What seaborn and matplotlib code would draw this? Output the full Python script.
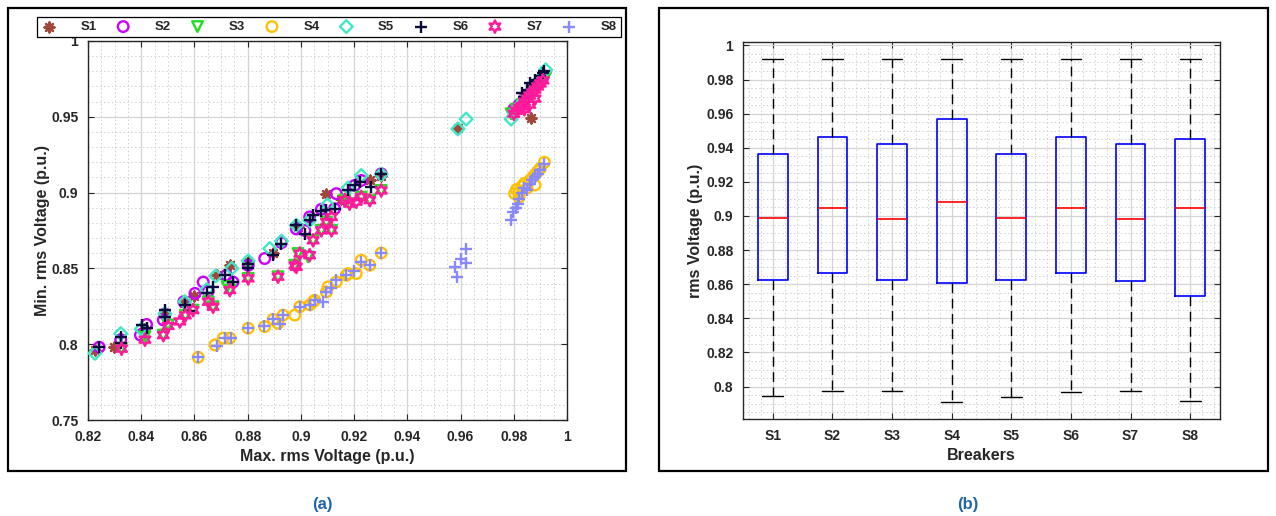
import numpy as np
import pandas as pd
import matplotlib
matplotlib.use("Agg")
import matplotlib.pyplot as plt
from matplotlib.ticker import MultipleLocator, FuncFormatter
from matplotlib.patches import Rectangle
import seaborn as sns

# ---------------- data: (a) min vs max rms voltage per breaker ----------------
series_names = ["S1", "S2", "S3", "S4", "S5", "S6", "S7", "S8"]

s1_vmax = [0.8226, 0.8299, 0.8410, 0.8489, 0.8560, 0.8600, 0.8683, 0.8733, 0.8802, 0.8896,
           0.8990, 0.9096, 0.9150, 0.9259, 0.9300, 0.9590, 0.9865, 0.9810, 0.9850, 0.9890]
s1_vmin = [0.7960, 0.7980, 0.8100, 0.8200, 0.8270, 0.8320, 0.8455, 0.8520, 0.8540, 0.8600,
           0.8770, 0.8993, 0.8960, 0.9080, 0.9110, 0.9425, 0.9490, 0.9560, 0.9640, 0.9720]

s2_vmax = [0.8242, 0.8323, 0.8397, 0.8420, 0.8483, 0.8489, 0.8560, 0.8602, 0.8633, 0.8652,
           0.8720, 0.8745, 0.8802, 0.8864, 0.8927, 0.8983, 0.9015, 0.9033, 0.9077, 0.9127,
           0.9133, 0.9202, 0.9227, 0.9302, 0.9800, 0.9820, 0.9840, 0.9860, 0.9880, 0.9900, 0.9910]
s2_vmin = [0.7980, 0.8030, 0.8060, 0.8130, 0.8160, 0.8200, 0.8280, 0.8335, 0.8410, 0.8350,
           0.8455, 0.8410, 0.8520, 0.8565, 0.8670, 0.8760, 0.8750, 0.8840, 0.8890, 0.8894,
           0.8993, 0.9047, 0.9080, 0.9124, 0.9550, 0.9580, 0.9620, 0.9650, 0.9700, 0.9740, 0.9760]

s3_vmax = [0.8326, 0.8414, 0.8483, 0.8501, 0.8566, 0.8595, 0.8652, 0.8670, 0.8723, 0.8733,
           0.8802, 0.8914, 0.8977, 0.8989, 0.9027, 0.9046, 0.9077, 0.9115, 0.9096, 0.9165,
           0.9183, 0.9227, 0.9259, 0.9302, 0.9790, 0.9810, 0.9830, 0.9850, 0.9870, 0.9890,
           0.9910, 0.9920]
s3_vmin = [0.7973, 0.8050, 0.8060, 0.8127, 0.8190, 0.8225, 0.8280, 0.8247, 0.8380, 0.8357,
           0.8434, 0.8445, 0.8521, 0.8598, 0.8576, 0.8685, 0.8751, 0.8751, 0.8806, 0.8950,
           0.8927, 0.8970, 0.8950, 0.9014, 0.9520, 0.9550, 0.9580, 0.9620, 0.9660, 0.9690,
           0.9730, 0.9760]

s4_vmax = [0.8614, 0.8677, 0.8708, 0.8733, 0.8802, 0.8864, 0.8896, 0.8914, 0.8933, 0.8977,
           0.8996, 0.9034, 0.9046, 0.9052, 0.9096, 0.9102, 0.9133, 0.9171, 0.9177, 0.9208,
           0.9227, 0.9259, 0.9302, 0.9803, 0.9810, 0.9820, 0.9830, 0.9840, 0.9850, 0.9860,
           0.9870, 0.9880, 0.9890, 0.9900, 0.9915, 0.9880, 0.9820]
s4_vmin = [0.7914, 0.7995, 0.8040, 0.8040, 0.8105, 0.8116, 0.8164, 0.8138, 0.8192, 0.8192,
           0.8247, 0.8260, 0.8280, 0.8290, 0.8345, 0.8378, 0.8411, 0.8455, 0.8466, 0.8466,
           0.8554, 0.8521, 0.8602, 0.8993, 0.9020, 0.9000, 0.9040, 0.9060, 0.9030, 0.9080,
           0.9100, 0.9120, 0.9140, 0.9160, 0.9200, 0.9050, 0.8970]

s5_vmax = [0.8226, 0.8323, 0.8400, 0.8489, 0.8564, 0.8646, 0.8680, 0.8740, 0.8802, 0.8883,
           0.8927, 0.8983, 0.9033, 0.9100, 0.9177, 0.9227, 0.9302, 0.9590, 0.9621, 0.9790,
           0.9800, 0.9820, 0.9840, 0.9860, 0.9880, 0.9900, 0.9920]
s5_vmin = [0.7940, 0.8070, 0.8100, 0.8200, 0.8280, 0.8360, 0.8450, 0.8500, 0.8550, 0.8631,
           0.8680, 0.8784, 0.8817, 0.8920, 0.9030, 0.9113, 0.9120, 0.9420, 0.9485, 0.9485,
           0.9530, 0.9570, 0.9620, 0.9660, 0.9710, 0.9750, 0.9810]

s6_vmax = [0.8242, 0.8323, 0.8323, 0.8402, 0.8420, 0.8489, 0.8489, 0.8564, 0.8580, 0.8646,
           0.8670, 0.8714, 0.8745, 0.8802, 0.8802, 0.8896, 0.8927, 0.8983, 0.9015, 0.9033,
           0.9046, 0.9077, 0.9096, 0.9127, 0.9177, 0.9202, 0.9221, 0.9265, 0.9302, 0.9830,
           0.9840, 0.9850, 0.9860, 0.9870, 0.9880, 0.9900, 0.9910, 0.9915]
s6_vmin = [0.7980, 0.8050, 0.8010, 0.8127, 0.8110, 0.8225, 0.8180, 0.8260, 0.8220, 0.8335,
           0.8380, 0.8455, 0.8410, 0.8532, 0.8500, 0.8587, 0.8664, 0.8784, 0.8730, 0.8817,
           0.8850, 0.8880, 0.8883, 0.8894, 0.9014, 0.9047, 0.9069, 0.9036, 0.9124, 0.9660,
           0.9630, 0.9680, 0.9720, 0.9700, 0.9740, 0.9770, 0.9790, 0.9800]

s7_vmax = [0.8326, 0.8414, 0.8483, 0.8501, 0.8545, 0.8566, 0.8595, 0.8652, 0.8670, 0.8733,
           0.8802, 0.8914, 0.8977, 0.8983, 0.8996, 0.9033, 0.9046, 0.9077, 0.9115, 0.9096,
           0.9115, 0.9165, 0.9183, 0.9208, 0.9227, 0.9259, 0.9302, 0.9800, 0.9810, 0.9820,
           0.9830, 0.9840, 0.9850, 0.9860, 0.9870, 0.9880, 0.9890, 0.9900, 0.9910, 0.9840,
           0.9860, 0.9880]
s7_vmin = [0.7970, 0.8030, 0.8060, 0.8120, 0.8150, 0.8190, 0.8225, 0.8280, 0.8247, 0.8357,
           0.8434, 0.8445, 0.8520, 0.8510, 0.8598, 0.8587, 0.8685, 0.8751, 0.8751, 0.8806,
           0.8839, 0.8950, 0.8927, 0.8940, 0.8970, 0.8950, 0.9014, 0.9520, 0.9540, 0.9560,
           0.9570, 0.9600, 0.9620, 0.9640, 0.9660, 0.9680, 0.9700, 0.9720, 0.9740, 0.9550,
           0.9580, 0.9620]

s8_vmax = [0.8614, 0.8683, 0.8714, 0.8736, 0.8802, 0.8860, 0.8896, 0.8920, 0.8933, 0.8996,
           0.9034, 0.9052, 0.9083, 0.9096, 0.9115, 0.9133, 0.9171, 0.9200, 0.9227, 0.9259,
           0.9302, 0.9581, 0.9587, 0.9602, 0.9620, 0.9621, 0.9790, 0.9797, 0.9810, 0.9815,
           0.9820, 0.9830, 0.9840, 0.9850, 0.9860, 0.9870, 0.9880, 0.9890, 0.9900, 0.9915]
s8_vmin = [0.7914, 0.7989, 0.8040, 0.8040, 0.8105, 0.8120, 0.8164, 0.8131, 0.8192, 0.8247,
           0.8260, 0.8290, 0.8280, 0.8345, 0.8370, 0.8422, 0.8455, 0.8480, 0.8540, 0.8521,
           0.8602, 0.8510, 0.8444, 0.8565, 0.8536, 0.8631, 0.8817, 0.8870, 0.8900, 0.8925,
           0.8960, 0.9000, 0.9030, 0.9020, 0.9060, 0.9080, 0.9100, 0.9120, 0.9150, 0.9190]

# ---------------- data: (b) five-number summary of rms voltage per breaker ----------------
breakers = ["S1", "S2", "S3", "S4", "S5", "S6", "S7", "S8"]
whisker_low = [0.7947, 0.7977, 0.7974, 0.7910, 0.7941, 0.7968, 0.7972, 0.7914]
quartile_1 = [0.8625, 0.8666, 0.8625, 0.8610, 0.8623, 0.8668, 0.8621, 0.8529]
medians = [0.8988, 0.9047, 0.8985, 0.9082, 0.8988, 0.9047, 0.8985, 0.9047]
quartile_3 = [0.9363, 0.9465, 0.9420, 0.9567, 0.9366, 0.9465, 0.9422, 0.9451]
whisker_high = [0.9920, 0.9920, 0.9920, 0.9920, 0.9920, 0.9920, 0.9920, 0.9920]

# ---------------- styling ----------------
sns.set_style("ticks")
plt.rcParams["font.family"] = ["Liberation Sans", "DejaVu Sans"]
plt.rcParams["font.weight"] = "bold"
plt.rcParams["axes.labelweight"] = "bold"

series_colors = ["#A0483C", "#CC00FF", "#22DD22", "#FFC000",
                 "#3FE8C4", "#0A0A3C", "#FF1A9C", "#8888FF"]
series_markers = [(8, 2, 0), "o", "v", "o", "D", "+", (6, 1, 0), "+"]
series_sizes = [50, 58, 58, 58, 42, 80, 80, 80]
open_marker = [False, True, True, True, True, False, True, False]

vmax_all = [s1_vmax, s2_vmax, s3_vmax, s4_vmax, s5_vmax, s6_vmax, s7_vmax, s8_vmax]
vmin_all = [s1_vmin, s2_vmin, s3_vmin, s4_vmin, s5_vmin, s6_vmin, s7_vmin, s8_vmin]

W, H = 1276, 516
fig = plt.figure(figsize=(W / 100, H / 100), dpi=100)

ax1 = fig.add_axes([88 / W, 1 - 420 / H, (567 - 88) / W, (420 - 41) / H])
ax2 = fig.add_axes([743 / W, 1 - 419 / H, (1220 - 743) / W, (419 - 42) / H])

tick_color = "#262626"
grid_major = "#d4d4d4"
grid_minor = "#cfcfcf"


def style_axes(ax):
    for sp in ax.spines.values():
        sp.set_visible(True)
        sp.set_color(tick_color)
        sp.set_linewidth(1.0)
    ax.tick_params(which="major", direction="in", length=4, width=0.8,
                   top=True, right=True, colors=tick_color, labelsize=10, pad=7)
    ax.tick_params(which="minor", length=0)
    for lab in ax.get_xticklabels() + ax.get_yticklabels():
        lab.set_fontweight("bold")
    ax.grid(True, which="major", color=grid_major, linewidth=0.9, linestyle="-")
    ax.grid(True, which="minor", color=grid_minor, linewidth=0.7, linestyle=(0, (1.5, 2.5)))
    ax.set_axisbelow(True)


# ---------------- (a) scatter ----------------
for i, name in enumerate(series_names):
    kw = dict(marker=series_markers[i], s=series_sizes[i], linewidth=1.7, zorder=3 + i)
    if open_marker[i]:
        kw.update(facecolor="none", edgecolor=series_colors[i])
    else:
        kw.update(color=series_colors[i])
    sns.scatterplot(x=vmax_all[i], y=vmin_all[i], ax=ax1, label=name, legend=False, **kw)

ax1.set_xlim(0.82, 1.0)
ax1.set_ylim(0.75, 1.0)
ax1.xaxis.set_major_locator(MultipleLocator(0.02))
ax1.xaxis.set_minor_locator(MultipleLocator(0.005))
ax1.yaxis.set_major_locator(MultipleLocator(0.05))
ax1.yaxis.set_minor_locator(MultipleLocator(0.01))
fmt = FuncFormatter(lambda v, p: f"{v:.4g}")
ax1.xaxis.set_major_formatter(fmt)
ax1.yaxis.set_major_formatter(fmt)
ax1.set_xlabel("Max. rms Voltage (p.u.)", fontsize=11.5, fontweight="bold", color=tick_color, labelpad=4)
ax1.set_ylabel("Min. rms Voltage (p.u.)", fontsize=11.5, fontweight="bold", color=tick_color, labelpad=1)
style_axes(ax1)

handles, labels = ax1.get_legend_handles_labels()
leg = fig.legend(handles, labels, ncol=8, mode="expand",
                 bbox_to_anchor=(37 / W, 1 - 37 / H, (621 - 37) / W, 22 / H),
                 loc="lower left", frameon=True, fancybox=False, framealpha=1,
                 edgecolor="black", handletextpad=1.8,
                 handlelength=1.2, borderpad=0.3, borderaxespad=0, columnspacing=1.0,
                 prop={"weight": "bold", "size": 9.5})
leg.get_frame().set_linewidth(0.9)

# ---------------- (b) box plot ----------------
box_df = pd.DataFrame({
    "Breakers": np.repeat(breakers, 5),
    "rms": np.ravel(np.column_stack([whisker_low, quartile_1, medians, quartile_3, whisker_high])),
})
sns.boxplot(data=box_df, x="Breakers", y="rms", ax=ax2, width=0.5, whis=np.inf,
            fill=False, color="#0000FF", linewidth=1.2,
            boxprops=dict(color="#0000FF", linewidth=1.2),
            medianprops=dict(color="#FF0000", linewidth=1.2),
            whiskerprops=dict(color="#000000", linewidth=1.0, linestyle=(0, (7, 4))),
            capprops=dict(color="#000000", linewidth=1.0),
            capwidths=0.35)

ax2.set_xlim(-0.5, 7.5)
ax2.set_ylim(0.781, 1.002)
ax2.yaxis.set_major_locator(MultipleLocator(0.02))
ax2.yaxis.set_minor_locator(MultipleLocator(0.005))
ax2.xaxis.set_minor_locator(MultipleLocator(0.2))
ax2.yaxis.set_major_formatter(fmt)
ax2.set_xlabel("Breakers", fontsize=11.5, fontweight="bold", color=tick_color, labelpad=4)
ax2.set_ylabel("rms Voltage (p.u.)", fontsize=11.5, fontweight="bold", color=tick_color, labelpad=2)
style_axes(ax2)

# ---------------- panel frames and captions ----------------
for x0, x1 in [(8, 626), (659, 1268)]:
    fig.add_artist(Rectangle((x0 / W, 1 - 471 / H), (x1 - x0) / W, (471 - 8) / H,
                             transform=fig.transFigure, fill=False,
                             edgecolor="black", linewidth=1.6))
fig.text(322 / W, 1 - 504 / H, "(a)", ha="center", va="center",
         fontsize=12, fontweight="bold", color="#2266A8")
fig.text(968 / W, 1 - 504 / H, "(b)", ha="center", va="center",
         fontsize=12, fontweight="bold", color="#2266A8")

fig.savefig("out.png", dpi=100, facecolor="white")
